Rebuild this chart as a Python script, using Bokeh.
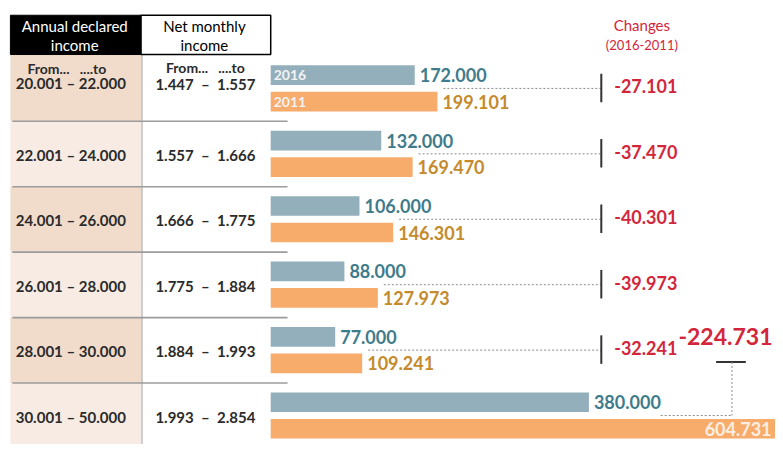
from bokeh.plotting import figure
from bokeh.models import Range1d
from bokeh.embed import file_html
from bokeh.resources import INLINE
from bokeh.core.properties import value

# ---------------- data ----------------
annual_ranges = ["20.001 – 22.000", "22.001 – 24.000", "24.001 – 26.000",
                 "26.001 – 28.000", "28.001 – 30.000", "30.001 – 50.000"]
monthly_ranges = ["1.447 \u00a0–\u00a0 1.557", "1.557 \u00a0–\u00a0 1.666", "1.666 \u00a0–\u00a0 1.775",
                  "1.775 \u00a0–\u00a0 1.884", "1.884 \u00a0–\u00a0 1.993", "1.993 \u00a0–\u00a0 2.854"]
taxpayers_2016 = [172000, 132000, 106000, 88000, 77000, 380000]
taxpayers_2011 = [199101, 169470, 146301, 127973, 109241, 604731]
changes = [-27101, -37470, -40301, -39973, -32241]
total_change = -224731


def fmt(v):
    return f"{v:,}".replace(",", ".")


# ---------------- layout helpers ----------------
U = 1182.0            # value units per reference pixel
def X(s):             # reference-x -> data-x
    return (s - 273) * U

ROWH = 66.6
n = len(taxpayers_2016)
blue_y = [76 + ROWH * i for i in range(n)]
orange_y = [103 + ROWH * i for i in range(n)]
gap_y = [89.5 + ROWH * i for i in range(n)]
row_bounds = [55] + [123 + ROWH * i for i in range(n - 1)] + [452]

FONT = value("Lato")
RED = "#d3263b"
BLUE = "#94afbc"
ORANGE = "#f8ac6c"
BLUE_TXT = "#3e7b8b"
ORANGE_TXT = "#c48a2c"
DARK = "#2b2b2b"

p = figure(width=775, height=444,
           x_range=Range1d(X(0), X(783)), y_range=Range1d(452, 0),
           x_axis_type=None, y_axis_type=None, toolbar_location=None,
           output_backend="svg", min_border=0, outline_line_color=None,
           background_fill_color="white", border_fill_color="white")
p.grid.visible = False

# left column fills
fills = ["#f1dbcb" if i % 2 == 0 else "#f7ebe3" for i in range(n)]
p.quad(left=X(10), right=X(143), top=row_bounds[:-1], bottom=row_bounds[1:],
       fill_color=fills, line_color=None)
# column separator
p.segment(x0=X(143), y0=55, x1=X(143), y1=452, line_color="#b5b5b5", line_width=1.2)
# row separators
seps = row_bounds[1:-1]
p.segment(x0=X(12), x1=X(290), y0=seps, y1=seps, line_color="#9c9c9c", line_width=1.6)

# header
p.quad(left=X(10), right=X(142), top=15, bottom=55, fill_color="black", line_color="black")
p.quad(left=X(142), right=X(273), top=15, bottom=55, fill_color="white",
       line_color="black", line_width=1.5)
p.text(x=[X(75), X(75)], y=[26, 45], text=["Annual declared", "income"],
       text_color="white", text_font=FONT, text_font_size="15px",
       text_align="center", text_baseline="middle")
p.text(x=[X(206), X(206)], y=[26, 45], text=["Net monthly", "income"],
       text_color="black", text_font=FONT, text_font_size="15px",
       text_align="center", text_baseline="middle")

# row labels
p.text(x=[X(67), X(207)], y=[69, 68],
       text=["From...\u00a0\u00a0\u00a0....to", "From...\u00a0\u00a0\u00a0....to"],
       text_color=DARK, text_font=FONT, text_font_size="14px", text_font_style="bold",
       text_align="center", text_baseline="middle")
label_y = [84] + [90.5 + ROWH * i for i in range(1, n)]
p.text(x=[X(71)] * n, y=label_y, text=annual_ranges, text_color=DARK, text_font=FONT,
       text_font_size="15px", text_font_style="bold", text_align="center", text_baseline="middle")
p.text(x=[X(207)] * n, y=[85] + label_y[1:], text=monthly_ranges, text_color=DARK, text_font=FONT,
       text_font_size="15px", text_font_style="bold", text_align="center", text_baseline="middle")

# bars
p.hbar(y=blue_y, left=0, right=taxpayers_2016, height=20, fill_color=BLUE, line_color=None)
p.hbar(y=orange_y, left=0, right=taxpayers_2011, height=20, fill_color=ORANGE, line_color=None)

# year tags inside first bars
p.text(x=[X(276), X(276)], y=[blue_y[0], orange_y[0]], text=["2016", "2011"],
       text_color="#f2f2f2", text_font=FONT, text_font_size="14px", text_font_style="bold",
       text_align="left", text_baseline="middle")

# value labels
p.text(x=taxpayers_2016, y=blue_y, text=[fmt(v) for v in taxpayers_2016], x_offset=5,
       text_color=BLUE_TXT, text_font=FONT, text_font_size="18px", text_font_style="bold",
       text_align="left", text_baseline="middle")
p.text(x=taxpayers_2011[:-1], y=orange_y[:-1], text=[fmt(v) for v in taxpayers_2011[:-1]], x_offset=5,
       text_color=ORANGE_TXT, text_font=FONT, text_font_size="18px", text_font_style="bold",
       text_align="left", text_baseline="middle")
p.text(x=[X(779)], y=[orange_y[-1]], text=[fmt(taxpayers_2011[-1])],
       text_color="#fbeee2", text_font=FONT, text_font_size="18px", text_font_style="bold",
       text_align="right", text_baseline="middle")

# dotted connectors
p.segment(x0=[v + 6 * U for v in taxpayers_2011[:-1]], y0=gap_y[:-1], x1=X(607), y1=gap_y[:-1],
          line_color="#8c8c8c", line_dash="2 2", line_width=1)
p.segment(x0=X(607), x1=X(607), y0=[g - 15 for g in gap_y[:-1]], y1=[g + 14 for g in gap_y[:-1]],
          line_color="#333333", line_width=2)

# change labels
p.text(x=[X(620)] * (n - 1), y=[g - 2 for g in gap_y[:-1]], text=[fmt(v) for v in changes],
       text_color=RED, text_font=FONT, text_font_size="18px", text_font_style="bold",
       text_align="left", text_baseline="middle")

# total change
p.text(x=[X(780)], y=[342], text=[fmt(total_change)], text_color=RED, text_font=FONT,
       text_font_size="23px", text_font_style="bold", text_align="right", text_baseline="middle")
p.segment(x0=X(723), x1=X(753), y0=368, y1=368, line_color="#333333", line_width=2)
p.segment(x0=[X(739), X(667)], y0=[368, gap_y[-1]], x1=[X(739), X(739)], y1=[gap_y[-1], gap_y[-1]],
          line_color="#8c8c8c", line_dash="2 2", line_width=1)

# changes header
p.text(x=[X(648)], y=[25], text=["Changes"], text_color=RED, text_font=FONT,
       text_font_size="15px", text_align="center", text_baseline="middle")
p.text(x=[X(648)], y=[45], text=["(2016-2011)"], text_color=RED, text_font=FONT,
       text_font_size="13px", text_align="center", text_baseline="middle")

open("out.html", "w").write(file_html(p, INLINE))
